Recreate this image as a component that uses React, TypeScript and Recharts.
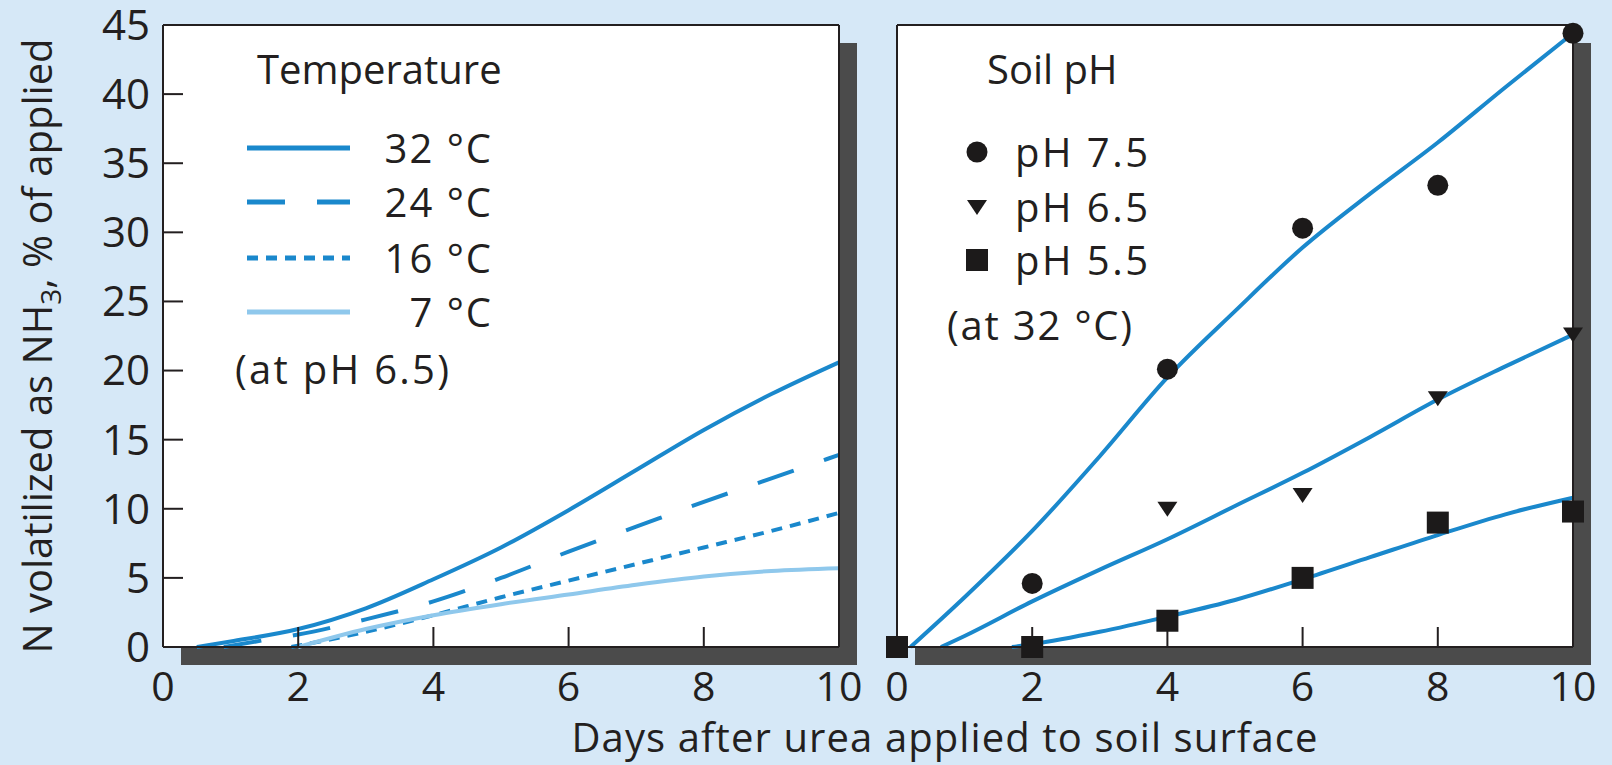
import React from "react";
import {
  CartesianGrid,
  ComposedChart,
  Legend,
  Line,
  Scatter,
  XAxis,
  YAxis,
} from "recharts";

const INK = "#231f20";
const MARK = "#1c1a1a";
const BLUE = "#1a88cc";
const PALE_BLUE = "#8fc8ec";
const SHADOW = "#4b4b4b";
const BG = "#d6e8f7";
const FONT = "'Open Sans', sans-serif";

const DAY_TICKS = [0, 2, 4, 6, 8, 10];
const DAY_INNER_TICKS = [2, 4, 6, 8];
const PCT_TICKS = [0, 5, 10, 15, 20, 25, 30, 35, 40, 45];
const PCT_INNER_TICKS = [5, 10, 15, 20, 25, 30, 35, 40];

// left panel: fitted curves by temperature (at pH 6.5)
const T32_DAYS = [0.5, 1, 2, 3, 4, 5, 6, 7, 8, 9, 10];
const T32_PCT = [0, 0.4, 1.3, 2.8, 4.9, 7.2, 9.9, 12.8, 15.7, 18.3, 20.6];
const T24_DAYS = [0.9, 1.5, 2, 3, 4, 5, 6, 7, 8, 9, 10];
const T24_PCT = [0, 0.5, 0.9, 2.0, 3.3, 5.0, 6.9, 8.7, 10.5, 12.2, 13.9];
const T16_DAYS = [1.9, 3, 4, 5, 6, 7, 8, 9, 10];
const T16_PCT = [0, 1.1, 2.3, 3.6, 4.8, 6.0, 7.2, 8.4, 9.7];
const T7_DAYS = [2, 3, 4, 5, 6, 7, 8, 9, 10];
const T7_PCT = [0, 1.3, 2.3, 3.1, 3.8, 4.5, 5.1, 5.5, 5.7];

// right panel: measured points by soil pH (at 32 °C)
const PH75_DAYS = [2, 4, 6, 8, 10];
const PH75_PCT = [4.6, 20.1, 30.3, 33.4, 44.4];
const PH65_DAYS = [4, 6, 8, 10];
const PH65_PCT = [10.0, 11.0, 18.0, 22.6];
const PH55_DAYS = [0, 2, 4, 6, 8, 10];
const PH55_PCT = [0, 0, 1.9, 5.0, 9.0, 9.8];

// right panel: fitted curves
const FIT75_DAYS = [0.2, 1, 2, 3, 4, 5, 6, 7, 8, 9, 10];
const FIT75_PCT = [0, 3.6, 8.4, 13.8, 19.5, 24.3, 28.9, 32.8, 36.5, 40.5, 44.4];
const FIT65_DAYS = [0.65, 1, 2, 3, 4, 5, 6, 7, 8, 9, 10];
const FIT65_PCT = [0, 0.8, 3.3, 5.6, 7.8, 10.2, 12.6, 15.2, 17.9, 20.3, 22.6];
const FIT55_DAYS = [1.7, 2, 3, 4, 5, 6, 7, 8, 9, 10];
const FIT55_PCT = [0, 0.2, 1.1, 2.2, 3.4, 4.9, 6.5, 8.1, 9.6, 10.8];

const zip = (xs: number[], ys: number[]) => xs.map((x, i) => ({ x, y: ys[i] }));

const TEMP_SERIES = [
  { name: "32 °C", data: zip(T32_DAYS, T32_PCT), color: BLUE, dash: undefined },
  { name: "24 °C", data: zip(T24_DAYS, T24_PCT), color: BLUE, dash: "38 32" },
  { name: "16 °C", data: zip(T16_DAYS, T16_PCT), color: BLUE, dash: "11 8" },
  { name: "7 °C", data: zip(T7_DAYS, T7_PCT), color: PALE_BLUE, dash: undefined },
];

const FIT_SERIES = [
  zip(FIT75_DAYS, FIT75_PCT),
  zip(FIT65_DAYS, FIT65_PCT),
  zip(FIT55_DAYS, FIT55_PCT),
];

const CHART_H = 765;
const MARGIN = { top: 20, left: 83, right: 36, bottom: 58 };
const EDGE = { stroke: INK, strokeWidth: 2 };

const CircleMark = (p: any) => <circle cx={p.cx} cy={p.cy} r={10.5} fill={MARK} />;
const TriangleMark = (p: any) => (
  <path
    d={`M${p.cx - 10},${p.cy - 7}L${p.cx + 10},${p.cy - 7}L${p.cx},${p.cy + 8}Z`}
    fill={MARK}
  />
);
const SquareMark = (p: any) => (
  <rect x={p.cx - 11} y={p.cy - 11} width={22} height={22} fill={MARK} />
);

function YTitle(props: any) {
  const vb = props.viewBox || { x: 83, y: 25, height: 622 };
  const x = vb.x - 31;
  const y = vb.y + vb.height / 2 + 10;
  return (
    <text
      x={x}
      y={y}
      transform={`rotate(-90 ${x} ${y})`}
      textAnchor="middle"
      fontSize={40}
      fontFamily={FONT}
      fill={INK}
    >
      N volatilized as NH
      <tspan dy={9} fontSize={28}>3</tspan>
      <tspan dy={-9}>, % of applied</tspan>
    </text>
  );
}

// frame: bottom/left axes carry the labels, top/right axes only the inner ticks
function frameAxes(withLabels: boolean) {
  return [
    <CartesianGrid key="bg" xAxisId="b" yAxisId="l" fill="#fff" horizontal={false} vertical={false} />,
    <XAxis
      key="xb"
      xAxisId="b"
      dataKey="x"
      type="number"
      domain={[0, 10]}
      ticks={DAY_TICKS}
      interval={0}
      height={60}
      tickSize={-20}
      tickMargin={45}
      axisLine={EDGE}
      tickLine={EDGE}
      tick={{ fill: INK, fontSize: 41, fontFamily: FONT }}
    />,
    <XAxis
      key="xt"
      xAxisId="t"
      orientation="top"
      type="number"
      domain={[0, 10]}
      ticks={DAY_INNER_TICKS}
      interval={0}
      height={5}
      tickSize={-20}
      axisLine={EDGE}
      tickLine={EDGE}
      tick={false}
    />,
    <YAxis
      key="yl"
      yAxisId="l"
      dataKey="y"
      type="number"
      domain={[0, 45]}
      ticks={withLabels ? PCT_TICKS : PCT_INNER_TICKS}
      interval={0}
      width={80}
      tickSize={-20}
      tickMargin={33}
      axisLine={EDGE}
      tickLine={EDGE}
      tick={withLabels ? { fill: INK, fontSize: 42, fontFamily: FONT } : false}
      label={withLabels ? <YTitle /> : undefined}
    />,
    <YAxis
      key="yr"
      yAxisId="r"
      orientation="right"
      type="number"
      domain={[0, 45]}
      ticks={PCT_INNER_TICKS}
      interval={0}
      width={5}
      tickSize={-20}
      axisLine={EDGE}
      tickLine={EDGE}
      tick={false}
    />,
  ];
}

const textProps = { fontFamily: FONT, fill: INK };

function TempLegend() {
  return (
    <svg width={320} height={380}>
      <g transform="translate(-200,-30)">
        <text x={257} y={84} fontSize={40} {...textProps}>Temperature</text>
        {TEMP_SERIES.map((s, i) => {
          const y = [148, 202, 258, 312][i];
          return (
            <g key={s.name}>
              <line x1={247} x2={350} y1={y} y2={y} stroke={s.color} strokeWidth={5} strokeDasharray={s.dash} />
              <text x={493} y={y + 15} fontSize={40} letterSpacing={2} textAnchor="end" {...textProps}>{s.name}</text>
            </g>
          );
        })}
        <text x={235} y={384} fontSize={40} letterSpacing={2.3} {...textProps}>(at pH 6.5)</text>
      </g>
    </svg>
  );
}

function PhLegend() {
  const rows = [
    { name: "pH 7.5", y: 152, Mark: CircleMark },
    { name: "pH 6.5", y: 207, Mark: TriangleMark },
    { name: "pH 5.5", y: 260, Mark: SquareMark },
  ];
  return (
    <svg width={320} height={380}>
      <g transform="translate(-934,-30)">
        <text x={987} y={84} fontSize={40} {...textProps}>Soil pH</text>
        {rows.map((r) => (
          <g key={r.name}>
            <r.Mark cx={977} cy={r.y} />
            <text x={1015} y={r.y + 15} fontSize={40} letterSpacing={2.5} {...textProps}>{r.name}</text>
          </g>
        ))}
        <text x={947} y={340} fontSize={40} letterSpacing={1.8} {...textProps}>(at 32 °C)</text>
      </g>
    </svg>
  );
}

function TemperaturePanel() {
  return (
    <ComposedChart width={880} height={CHART_H} margin={MARGIN}>
      {frameAxes(true)}
      {TEMP_SERIES.map((s) => (
        <Line
          key={s.name}
          xAxisId="b"
          yAxisId="l"
          data={s.data}
          dataKey="y"
          type="monotone"
          stroke={s.color}
          strokeWidth={4}
          strokeDasharray={s.dash}
          dot={false}
          activeDot={false}
          isAnimationActive={false}
        />
      ))}
      <Legend
        layout="vertical"
        align="center"
        verticalAlign="middle"
        wrapperStyle={{ left: 200, top: 30, width: 320, height: 380 }}
        content={() => <TempLegend />}
      />
    </ComposedChart>
  );
}

function SoilPhPanel() {
  return (
    <ComposedChart width={878} height={CHART_H} margin={{ ...MARGIN, right: 34 }}>
      {frameAxes(false)}
      {FIT_SERIES.map((data, i) => (
        <Line
          key={`fit${i}`}
          xAxisId="b"
          yAxisId="l"
          data={data}
          dataKey="y"
          type="monotone"
          stroke={BLUE}
          strokeWidth={4}
          dot={false}
          activeDot={false}
          isAnimationActive={false}
        />
      ))}
      <Scatter xAxisId="b" yAxisId="l" data={zip(PH75_DAYS, PH75_PCT)} shape={CircleMark} isAnimationActive={false} />
      <Scatter xAxisId="b" yAxisId="l" data={zip(PH65_DAYS, PH65_PCT)} shape={TriangleMark} isAnimationActive={false} />
      <Scatter xAxisId="b" yAxisId="l" data={zip(PH55_DAYS, PH55_PCT)} shape={SquareMark} isAnimationActive={false} />
      <Legend
        layout="vertical"
        align="center"
        verticalAlign="middle"
        wrapperStyle={{ left: 200, top: 30, width: 320, height: 380 }}
        content={() => <PhLegend />}
      />
    </ComposedChart>
  );
}

export default function App() {
  return (
    <div
      style={{
        position: "fixed",
        left: 0,
        top: 0,
        width: 1612,
        height: 765,
        background: BG,
        overflow: "hidden",
      }}
    >
      <div style={{ position: "absolute", left: 181, top: 43, width: 676, height: 622, background: SHADOW }} />
      <div style={{ position: "absolute", left: 915, top: 43, width: 676, height: 622, background: SHADOW }} />
      <div style={{ position: "absolute", left: 0, top: 0 }}>
        <TemperaturePanel />
      </div>
      <div style={{ position: "absolute", left: 734, top: 0 }}>
        <SoilPhPanel />
      </div>
      <svg width={1612} height={765} style={{ position: "absolute", left: 0, top: 0, pointerEvents: "none" }}>
        <text x={945} y={752} textAnchor="middle" fontSize={40} letterSpacing={1.1} {...textProps}>
          Days after urea applied to soil surface
        </text>
      </svg>
    </div>
  );
}
